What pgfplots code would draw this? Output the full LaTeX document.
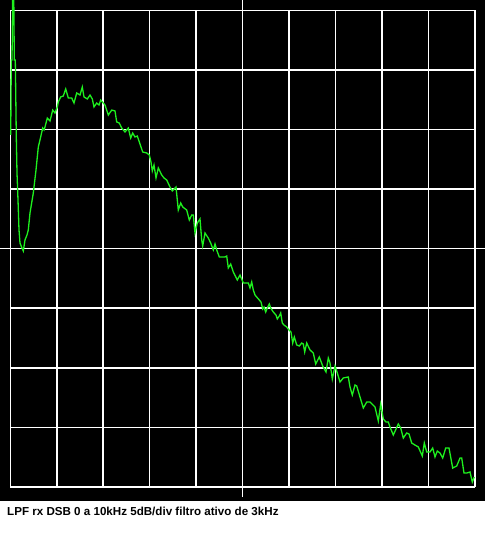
\documentclass[border=0pt]{standalone}
\usepackage{fontspec}
\newfontfamily\capfont{Liberation Sans}
\usepackage{pgfplots}
\pgfplotsset{compat=1.18}
\definecolor{trace}{RGB}{30,240,30}
\begin{document}
\begin{tikzpicture}
\begin{axis}[name=ax,
  scale only axis, width=485pt, height=501pt,
  xmin=-0.2217, xmax=10.2152, ymin=-41.175, ymax=0.864,
  axis line style={draw=none}, xtick=\empty, ytick=\empty,
  clip=true]
\fill[black] (rel axis cs:0,0) rectangle (rel axis cs:1,1);
% grid
\foreach \k in {0,1,2,3,4,6,7,8,9,10} {
  \edef\temp{\noexpand\draw[white, line width=1.5pt] (axis cs:\k,-40) -- (axis cs:\k,0);}
  \temp
}
\foreach \d in {0,-5,-10,-15,-25,-30,-35,-40} {
  \edef\temp{\noexpand\draw[white, line width=1.5pt] (axis cs:0,\d) -- (axis cs:10,\d);}
  \temp
}
\draw[white, line width=1.5pt] (axis cs:5,-40.84) -- (axis cs:5,0.864);
\draw[white, line width=1.5pt] (axis cs:-0.2217,-20) -- (axis cs:10.2152,-20);
\addplot[trace, line width=1.3pt, mark=none] coordinates {
(0.0086,-10.46) (0.0215,-4.17) (0.0366,-4.17) (0.0517,1.70) (0.0732,1.70)
(0.0861,-4.17) (0.1076,-4.17) (0.1291,-10.63) (0.1442,-13.65) (0.1657,-15.92)
(0.1872,-18.43) (0.2087,-19.53) (0.2518,-19.95) (0.2798,-20.20) (0.3163,-19.27)
(0.3594,-18.85) (0.3873,-18.43) (0.4239,-17.01) (0.4949,-15.33) (0.5530,-13.40)
(0.6025,-11.47) (0.6391,-10.88) (0.6972,-9.88) (0.7252,-10.04) (0.7467,-9.79)
(0.7962,-9.04) (0.8543,-9.29) (0.9124,-8.37) (0.9619,-8.62) (1.0114,-8.11)
(1.0329,-7.69) (1.0846,-7.27) (1.1405,-7.19) (1.1922,-6.60) (1.2481,-7.36)
(1.3213,-7.36) (1.3708,-7.78) (1.4289,-6.94) (1.4999,-7.11) (1.5494,-6.44)
(1.5860,-7.27) (1.6570,-7.44) (1.7151,-7.11) (1.7646,-7.44) (1.8012,-8.11)
(1.8593,-7.78) (1.9088,-7.95) (1.9454,-7.53) (2.0379,-7.95) (2.1089,-8.79)
(2.1821,-8.37) (2.2531,-8.45) (2.2897,-9.37) (2.3456,-9.46) (2.3973,-9.88)
(2.4683,-10.21) (2.5393,-9.88) (2.5909,-10.72) (2.6340,-10.30) (2.6835,-10.63)
(2.7329,-10.55) (2.7911,-11.22) (2.8492,-11.89) (2.9352,-11.97) (2.9912,-12.14)
(3.0278,-12.73) (3.0557,-13.48) (3.0923,-12.98) (3.1354,-14.07) (3.1849,-13.23)
(3.2580,-13.82) (3.3075,-14.07) (3.3656,-14.24) (3.4366,-14.83) (3.4861,-15.16)
(3.5657,-14.83) (3.5937,-15.92) (3.6152,-16.76) (3.6669,-16.17) (3.7099,-16.50)
(3.7960,-16.76) (3.8520,-17.60) (3.9036,-17.18) (3.9380,-17.18) (3.9746,-18.69)
(4.0241,-17.85) (4.0822,-17.51) (4.1188,-19.27) (4.1403,-19.78) (4.1898,-18.69)
(4.2608,-19.11) (4.3125,-19.53) (4.3684,-20.11) (4.4050,-19.61) (4.4416,-20.11)
(4.4975,-20.70) (4.6202,-20.70) (4.6568,-20.62) (4.6912,-21.62) (4.7429,-21.29)
(4.7988,-21.96) (4.8849,-22.63) (4.9430,-22.21) (5.0140,-22.88) (5.1216,-22.88)
(5.1582,-23.30) (5.1948,-22.80) (5.2292,-23.47) (5.2658,-23.89) (5.3024,-24.06)
(5.3583,-24.31) (5.3949,-24.48) (5.4315,-25.06) (5.4594,-24.90) (5.4960,-25.32)
(5.5305,-24.98) (5.5735,-24.64) (5.6036,-24.98) (5.6596,-25.32) (5.7177,-25.57)
(5.7456,-25.90) (5.7887,-25.65) (5.8188,-25.40) (5.8532,-26.24) (5.8898,-26.41)
(5.9479,-26.57) (5.9974,-26.83) (6.0404,-26.99) (6.0770,-27.92) (6.1115,-27.41)
(6.1631,-28.08) (6.2191,-28.17) (6.2707,-27.92) (6.3052,-28.00) (6.3353,-28.67)
(6.3783,-27.92) (6.4494,-28.50) (6.5204,-28.76) (6.5720,-29.68) (6.6495,-29.09)
(6.7226,-29.85) (6.7936,-30.35) (6.8431,-29.18) (6.8797,-29.59) (6.9292,-30.94)
(6.9873,-29.85) (7.0368,-30.43) (7.0949,-31.19) (7.1659,-30.85) (7.2735,-30.77)
(7.3101,-31.61) (7.3596,-32.28) (7.4177,-31.44) (7.4543,-31.52) (7.5253,-32.45)
(7.5963,-33.37) (7.6695,-32.87) (7.7405,-32.87) (7.8481,-33.29) (7.9191,-34.46)
(7.9707,-33.04) (8.0267,-34.29) (8.0848,-34.55) (8.1343,-34.55) (8.1709,-34.97)
(8.2419,-35.64) (8.3495,-34.71) (8.4011,-35.05) (8.4571,-35.89) (8.5302,-35.47)
(8.5797,-35.55) (8.6378,-36.31) (8.7088,-36.48) (8.7798,-36.64) (8.8659,-37.40)
(8.9090,-36.31) (8.9606,-37.06) (9.0316,-37.06) (9.0897,-36.73) (9.1392,-37.48)
(9.1887,-36.98) (9.2468,-37.15) (9.3049,-37.57) (9.3695,-36.73) (9.4405,-36.73)
(9.5201,-38.41) (9.6062,-38.24) (9.6772,-37.57) (9.7138,-37.57) (9.7633,-38.83)
(9.8214,-38.83) (9.8924,-38.74) (9.9419,-39.58) (9.9849,-39.16)
};
\end{axis}
\path (ax.south west) ++(0pt,-48pt) (ax.north east);
\node[anchor=base west, inner sep=0pt, font=\capfont\fontsize{11.6}{14}\selectfont\bfseries]
  at ([xshift=7pt,yshift=-14pt]ax.south west) {LPF rx DSB 0 a 10kHz 5dB/div filtro ativo de 3kHz};
\end{tikzpicture}
\end{document}
